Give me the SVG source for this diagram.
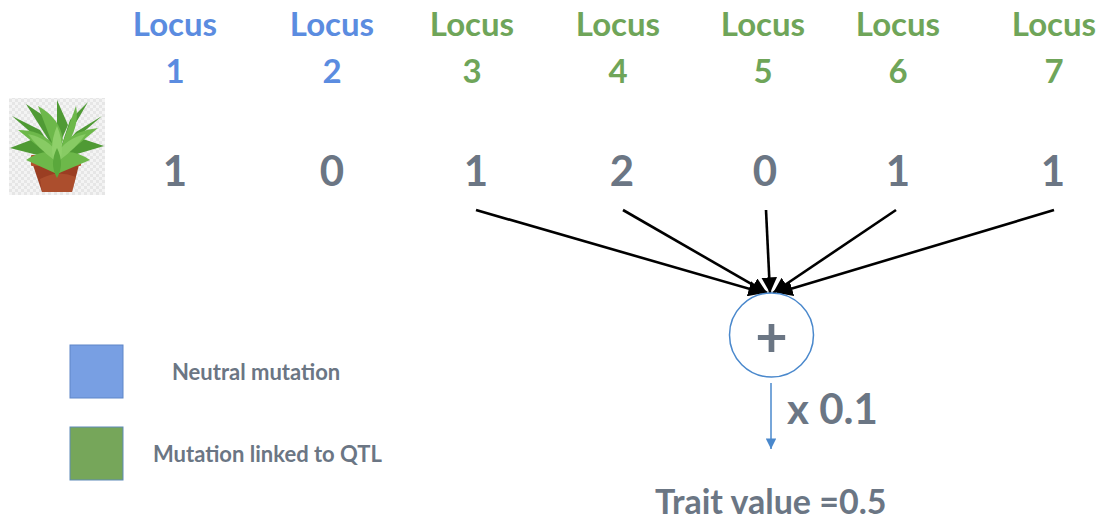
<svg xmlns="http://www.w3.org/2000/svg" width="1101" height="521" viewBox="0 0 1101 521">
  <defs>
    <style>
      text { font-family: Lato, "Open Sans", "Liberation Sans", sans-serif; font-weight: 700; }
      .neutral { fill: #5b8ce0; font-size: 33px; text-anchor: middle; }
      .qtl { fill: #6fa559; font-size: 33px; text-anchor: middle; }
      .geno { fill: #6b7684; font-size: 42px; text-anchor: middle; }
      .legend { fill: #6b7684; font-size: 22px; }
      .big { fill: #6b7684; }
      .edge { stroke: #000; stroke-width: 2.6; fill: none; marker-end: url(#head); }
    </style>
    <marker id="head" viewBox="0 0 10 10" refX="10" refY="5" markerWidth="6" markerHeight="6" orient="auto" markerUnits="strokeWidth">
      <path d="M0,0 L10,5 L0,10 z" fill="#000"/>
    </marker>
    <marker id="bluehead" viewBox="0 0 10 10" refX="10" refY="5" markerWidth="9" markerHeight="7" orient="auto" markerUnits="strokeWidth">
      <path d="M0,0 L10,5 L0,10 z" fill="#4a88cc"/>
    </marker>
    <pattern id="checker" width="6" height="6" patternUnits="userSpaceOnUse">
      <rect width="6" height="6" fill="#f4f4f4"/>
      <rect width="3" height="3" fill="#e6e6e6"/>
      <rect x="3" y="3" width="3" height="3" fill="#e6e6e6"/>
    </pattern>
  </defs>

  <!-- plant icon -->
  <g id="plant">
    <rect x="9" y="98" width="96" height="97" fill="url(#checker)"/>
    <!-- pot -->
    <path d="M33,165 L79,165 L72,192 L42,192 Z" fill="#9b3e22"/>
    <path d="M40,179 Q58,169 76,177 L72,192 L42,192 Z" fill="#b85a35" opacity="0.6"/>
    <rect x="31" y="155" width="50" height="11" rx="1" fill="#b4502c"/>
    <!-- leaves -->
    <g fill="#4f9a34">
      <path d="M57,155 L12,116 L40,130 Z"/>
      <path d="M57,155 L102,116 L76,132 Z"/>
      <path d="M57,160 L10,148 L36,138 Z"/>
      <path d="M57,160 L104,146 L80,138 Z"/>
      <path d="M55,150 L26,104 L47,118 Z"/>
      <path d="M60,150 L88,102 L70,120 Z"/>
      <path d="M57,150 L57,100 L68,125 Z"/>
    </g>
    <g fill="#6db84a">
      <path d="M57,162 L18,130 Q40,130 52,143 Z"/>
      <path d="M57,162 L98,128 Q76,130 63,143 Z"/>
      <path d="M57,156 L38,106 Q60,118 63,140 Z"/>
      <path d="M58,156 L76,106 Q80,126 66,146 Z"/>
      <path d="M57,174 L26,160 Q44,148 57,154 Z"/>
      <path d="M57,174 L90,160 Q72,148 58,154 Z"/>
    </g>
    <g fill="#8fd06a">
      <path d="M57,168 Q47,150 57,126 Q67,150 57,168 Z"/>
      <path d="M54,160 Q38,148 28,134 Q48,138 58,154 Z" opacity="0.8"/>
      <path d="M60,160 Q76,148 86,134 Q66,138 57,154 Z" opacity="0.8"/>
    </g>
    <path d="M57,178 Q49,164 57,148 Q65,164 57,178 Z" fill="#5aa83c"/>
  </g>

  <!-- locus headers -->
  <g id="locus1"><text class="neutral" x="175" y="36">Locus</text><text class="neutral" x="175" y="83">1</text></g>
  <g id="locus2"><text class="neutral" x="332" y="36">Locus</text><text class="neutral" x="332" y="83">2</text></g>
  <g id="locus3"><text class="qtl" x="472" y="36">Locus</text><text class="qtl" x="472" y="83">3</text></g>
  <g id="locus4"><text class="qtl" x="618" y="36">Locus</text><text class="qtl" x="618" y="83">4</text></g>
  <g id="locus5"><text class="qtl" x="763" y="36">Locus</text><text class="qtl" x="763" y="83">5</text></g>
  <g id="locus6"><text class="qtl" x="898" y="36">Locus</text><text class="qtl" x="898" y="83">6</text></g>
  <g id="locus7"><text class="qtl" x="1054" y="36">Locus</text><text class="qtl" x="1054" y="83">7</text></g>

  <!-- genotype values -->
  <g id="genotype">
    <text class="geno" x="175" y="186">1</text>
    <text class="geno" x="332" y="186">0</text>
    <text class="geno" x="476" y="186">1</text>
    <text class="geno" x="622" y="186">2</text>
    <text class="geno" x="765" y="186">0</text>
    <text class="geno" x="898" y="186">1</text>
    <text class="geno" x="1053" y="186">1</text>
  </g>

  <!-- connectors into the sum node -->
  <g id="connectors">
    <line class="edge" x1="476" y1="210" x2="764" y2="293"/>
    <line class="edge" x1="623" y1="210" x2="767" y2="293"/>
    <line class="edge" x1="766" y1="210" x2="770" y2="293"/>
    <line class="edge" x1="896" y1="210" x2="773" y2="293"/>
    <line class="edge" x1="1054" y1="210" x2="777" y2="293"/>
    <line x1="771" y1="383" x2="771" y2="449" stroke="#4a88cc" stroke-width="1.5" marker-end="url(#bluehead)"/>
  </g>

  <!-- sum node -->
  <g id="sum">
    <circle cx="771.5" cy="335" r="42" fill="#fff" stroke="#4a88cc" stroke-width="1.5"/>
    <text class="big" x="771.5" y="357" font-size="56" text-anchor="middle">+</text>
  </g>

  <g id="scale">
    <text class="big" x="787" y="424" font-size="42">x 0.1</text>
  </g>

  <g id="result">
    <text class="big" x="655" y="514" font-size="34">Trait value =0.5</text>
  </g>

  <!-- legend -->
  <g id="legend-neutral">
    <rect x="70" y="345" width="53" height="53" fill="#789fe3" stroke="#5f86c8" stroke-width="1"/>
    <text class="legend" x="172" y="380">Neutral mutation</text>
  </g>
  <g id="legend-qtl">
    <rect x="70" y="427" width="53" height="53" fill="#76a65a" stroke="#5e8ab8" stroke-width="1"/>
    <text class="legend" x="153" y="462">Mutation linked to QTL</text>
  </g>
</svg>
